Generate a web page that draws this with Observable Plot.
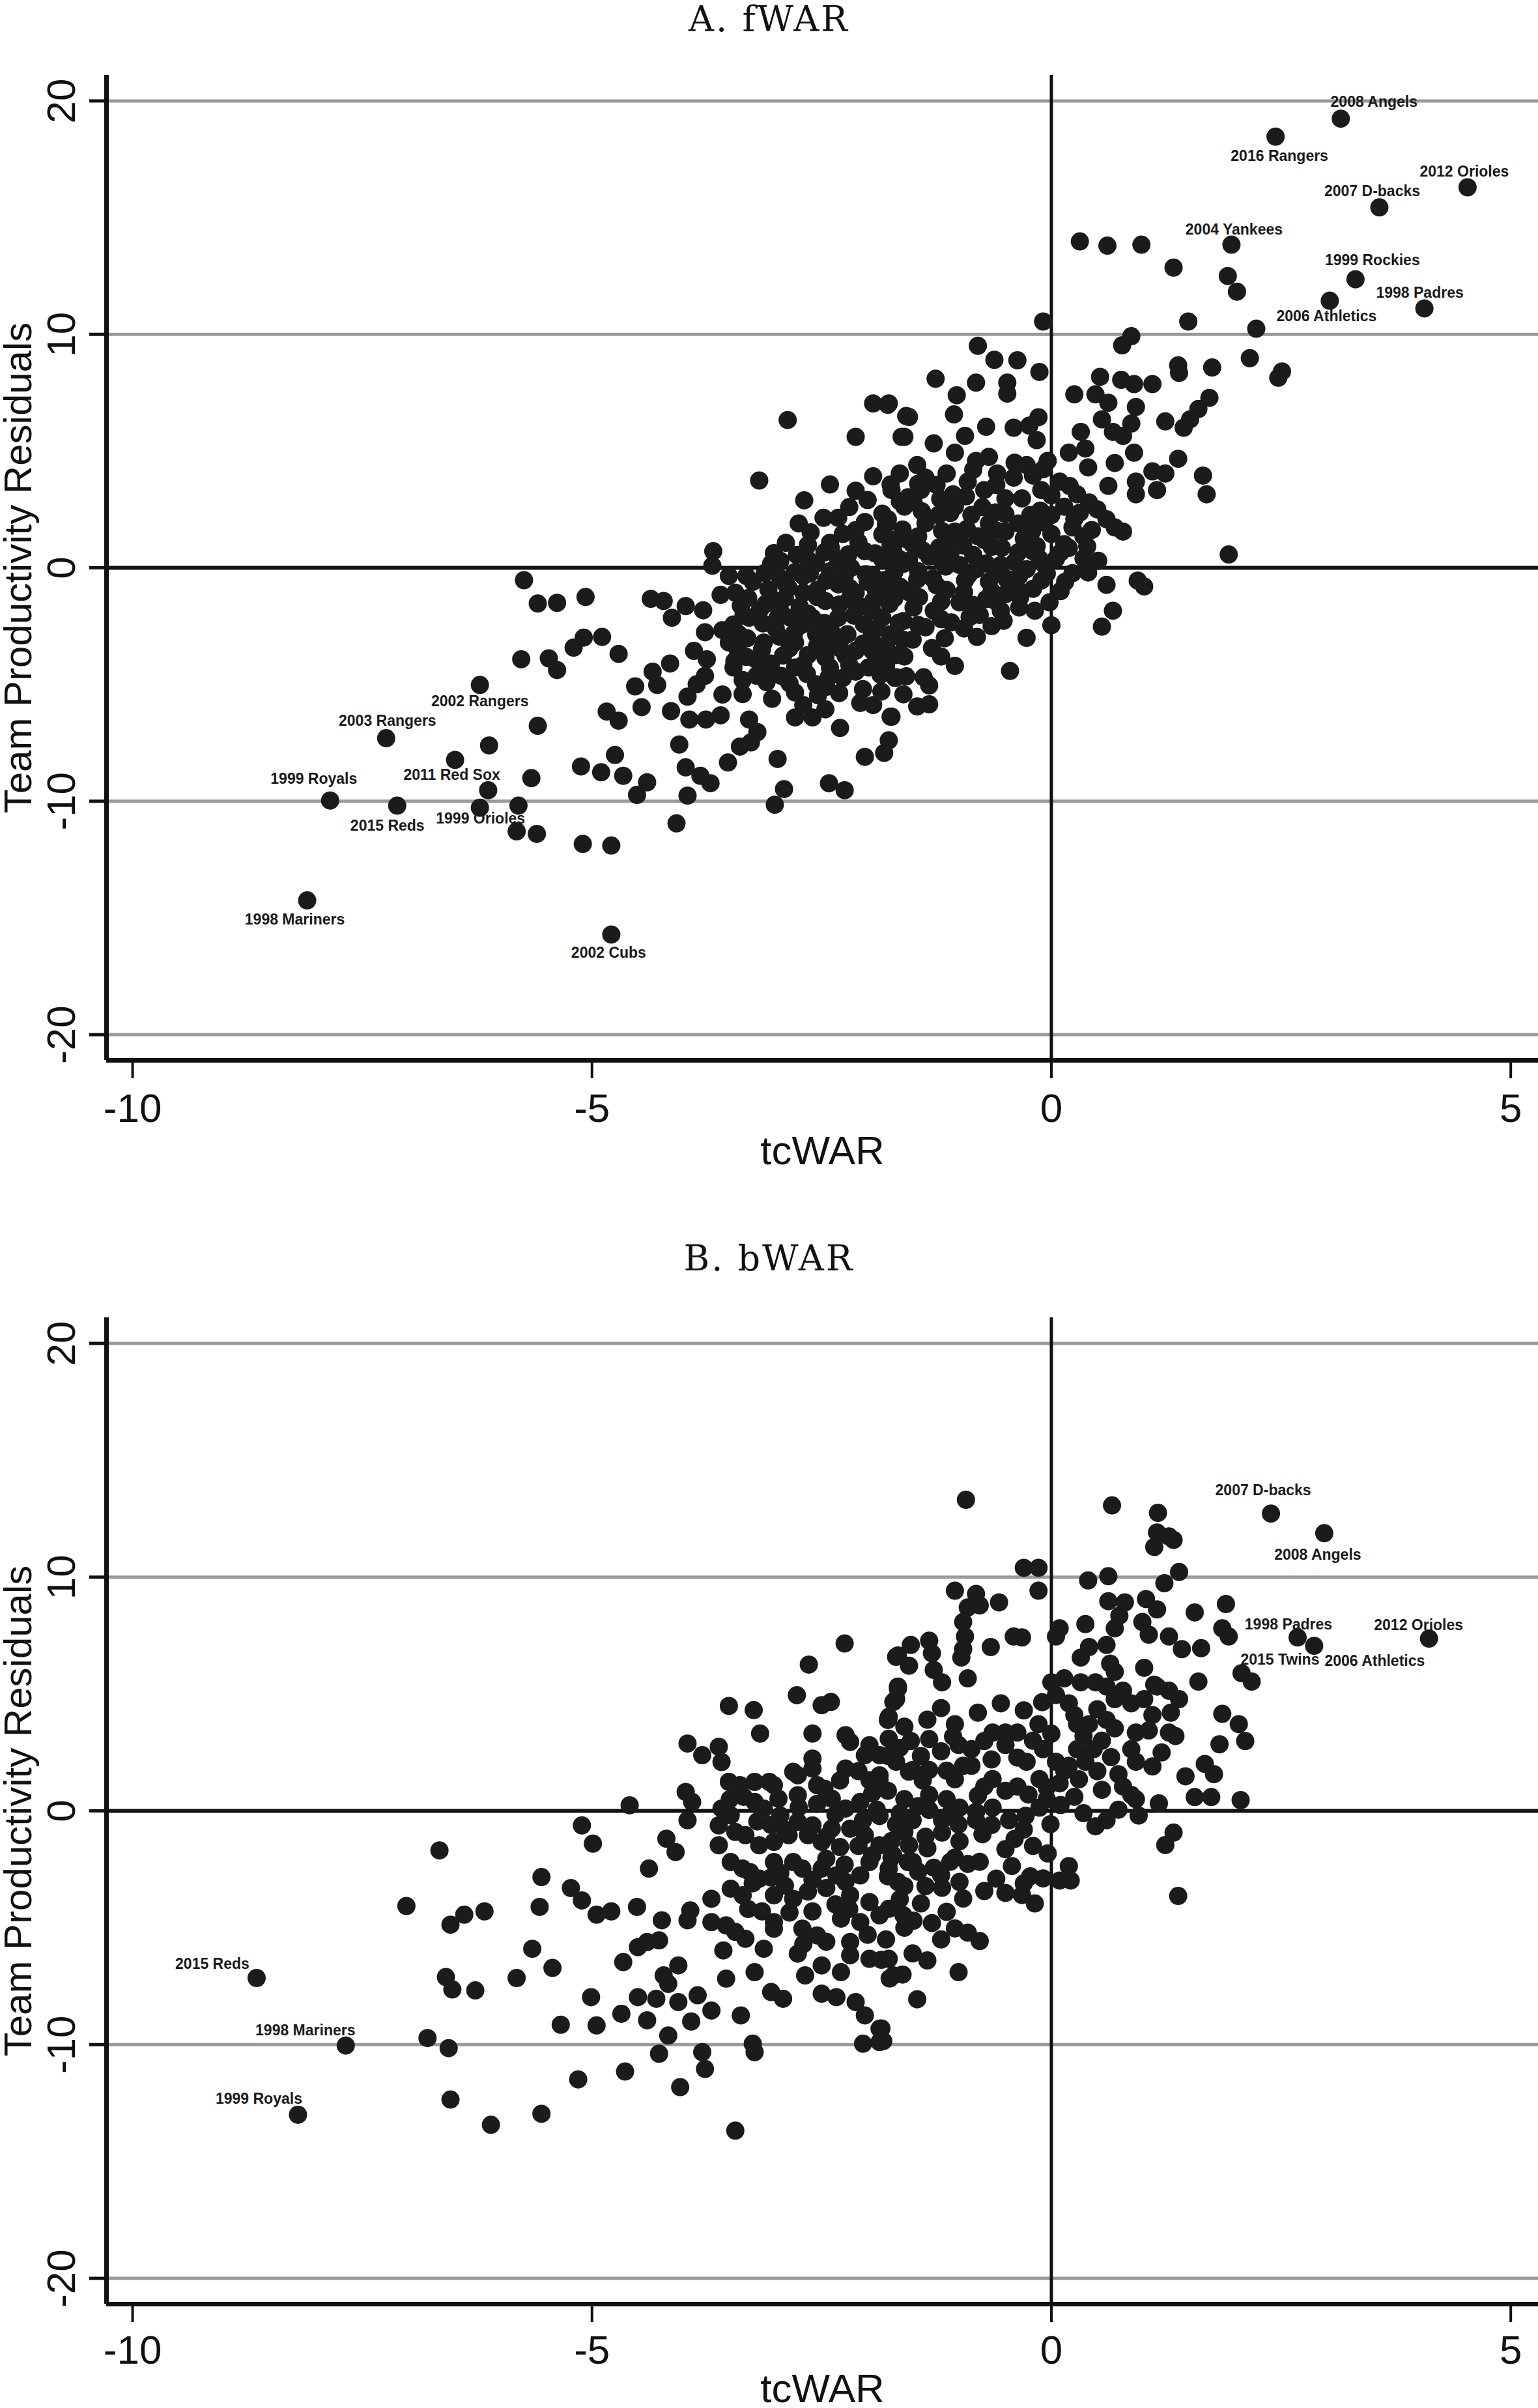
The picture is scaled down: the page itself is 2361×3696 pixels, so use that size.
<!DOCTYPE html>
<html><head><meta charset="utf-8">
<script src="https://cdn.jsdelivr.net/npm/d3@7"></script>
<script src="https://cdn.jsdelivr.net/npm/@observablehq/plot@0.6"></script>
<style>
html,body{margin:0;padding:0;background:#fff;}
#chart svg{display:block;}
</style></head><body><div id="chart"></div>
<script>
// ---------------- DATA ----------------
const panelTitles = ["A. fWAR", "B. bWAR"];
const xTitle = "tcWAR";
const yTitle = "Team Productivity Residuals";
const xTicks = [-10, -5, 0, 5];
const yTicks = [-20, -10, 0, 10, 20];
const gridY = [-20, -10, 10, 20];

// Panel A: [tcWAR, residual]
const fwarPoints = [
[-8.10,-14.25],[-4.79,-15.71],[-7.85,-9.97],[-7.12,-10.19],[-7.24,-7.30],[-6.22,-5.02],
[-6.49,-8.23],[-6.12,-7.61],[-6.13,-9.53],[-6.22,-10.28],[-5.80,-10.19],[-5.66,-9.01],
[-5.82,-11.29],[-5.60,-11.40],[-5.10,-11.83],[-4.79,-11.90],[-5.59,-6.77],
[-5.74,-0.53],[-5.59,-1.53],[-5.38,-1.50],[-5.07,-1.25],
[-5.77,-3.92],[-5.47,-3.88],[-5.38,-4.38],[-5.20,-3.42],[-5.09,-2.99],[-4.89,-2.96],[-4.71,-3.69],
[-4.84,-6.16],[-4.71,-6.55],[-5.12,-8.51],[-4.90,-8.76],[-4.75,-8.02],[-4.66,-8.91],[-4.51,-9.73],[-4.40,-9.19],
[-4.53,-5.08],[-4.46,-5.97],[-4.34,-4.45],[-4.29,-5.02],[-4.15,-4.10],[-4.14,-6.14],[-4.05,-7.57],[-4.08,-10.95],
[-3.98,-8.55],[-3.82,-8.91],[-3.71,-9.23],[-3.96,-9.76],[-3.94,-6.50],[-3.96,-5.52],[-3.86,-4.99],[-3.77,-4.63],
[-3.76,-6.50],[-3.58,-5.43],[-3.60,-6.32],[-3.52,-8.34],[-3.39,-7.66],[-3.27,-7.48],[-3.20,-7.04],[-3.29,-6.50],
[-3.04,-5.61],[-2.98,-8.19],[-2.91,-9.48],[-3.01,-10.15],[-2.42,-9.23],[-2.25,-9.53],[-2.03,-8.10],[-1.82,-7.93],
[-1.77,-7.39],[-2.30,-6.86],[-1.75,-6.38],[-2.08,-5.79],[-1.94,-5.88],[-1.70,-4.72],
[-3.68,0.71],[-3.69,0.09],[-3.51,-0.35],[-3.32,-0.35],[-3.60,-1.16],[-3.44,-1.07],[-4.36,-1.33],[-4.22,-1.42],
[-3.98,-1.64],[-4.13,-2.14],[-3.79,-1.82],[-3.77,-2.76],[-3.89,-3.56],[-3.75,-3.92],[-3.58,-2.67],[-3.51,-3.20],
[-3.41,-3.56],[-3.46,-4.27],[-3.36,-4.81],[-3.29,-2.14],[-3.17,-1.78],[-2.98,-1.42],[-3.13,-3.20],[-3.22,-3.92],
[-3.08,-4.27],[-2.94,-4.63],[-2.79,-4.27],[-2.79,-5.34],[-2.70,-5.88],[-2.60,-6.41],[-2.46,-6.06],[-2.79,-6.41],
[-2.56,-4.99],[-2.41,-4.27],[-2.27,-4.72],[-2.13,-4.45],[-1.99,-4.27],[-2.89,1.07],[-2.65,0.98],[-3.05,0.18],
[-2.79,-0.18],[-2.56,0.18],[-2.89,-0.71],[-2.70,-1.07],[-2.98,-2.14],[-2.84,-2.14],[-2.65,-1.96],[-2.46,-1.42],
[-2.32,-2.14],[-2.56,-2.85],[-2.79,-3.20],[-2.65,-3.74],[-2.41,-3.20],[-2.22,-2.85],[-2.13,-3.56],[-2.32,-0.71],
[-2.13,-1.07],[-1.94,-1.42],[-1.84,-2.14],[-1.75,-2.85],[-1.70,-3.74],[-1.75,-0.71],[-1.94,-0.36],[-2.18,0.00],
[-2.32,0.36],[-2.03,0.71],[-1.84,0.36],[-1.65,0.36],[-2.03,1.96],[-1.84,1.43],[-1.61,1.25],[-2.41,1.07],
[-2.32,2.14],[-2.13,1.61],[-2.48,2.14],[-2.41,3.57],[-2.13,3.30],[-1.94,3.92],[-1.75,3.57],[-1.65,2.85],
[-2.13,5.61],[-1.63,5.61],[-1.58,6.50],[-1.94,7.04],[-1.77,7.04],[-2.87,6.33],[-3.18,3.74],[-2.69,2.89],[-1.84,2.32],
[-2.62,1.52],[-2.27,1.45],[-3.02,0.63],[-2.77,0.55],[-2.47,0.66],[-2.21,0.57],[-1.92,0.62],[-1.72,0.71],
[-3.12,-0.22],[-2.63,-0.25],[-2.41,-0.15],[-2.02,-0.27],[-1.71,-0.18],[-3.08,-0.93],[-2.86,-0.86],[-2.55,-0.95],
[-2.19,-0.88],[-1.91,-0.97],[-1.62,-0.91],[-3.38,-1.62],[-3.11,-1.55],[-2.74,-1.66],[-2.31,-1.58],[-2.08,-1.66],
[-1.76,-1.55],[-3.46,-2.43],[-3.14,-2.38],[-2.72,-2.45],[-2.47,-2.36],[-2.04,-2.42],[-1.66,-2.35],[-3.31,-3.02],
[-2.96,-2.95],[-2.29,-3.05],[-1.96,-2.98],[-1.62,-3.07],[-3.32,-3.82],[-2.92,-3.76],[-2.46,-3.85],[-2.24,-3.77],
[-1.89,-3.83],[-3.21,-4.62],[-2.66,-4.55],[-2.42,-4.66],[-1.86,-4.58],[-1.58,-4.65],[-3.36,-5.41],[-2.54,-5.46],
[-2.31,-5.37],[-1.61,-5.42],
[-3.25,-0.60],[-2.95,-0.45],[-2.70,-0.35],[-2.45,-0.55],[-2.25,-0.40],[-2.00,-0.60],[-1.80,-1.20],
[-3.30,-1.30],[-2.90,-1.30],[-2.55,-1.25],[-2.20,-1.35],[-1.95,-1.85],[-3.35,-2.00],[-2.95,-1.85],[-2.60,-2.15],
[-2.15,-2.05],[-1.90,-2.60],[-3.40,-2.85],[-3.00,-2.60],[-2.80,-2.80],[-2.40,-2.70],[-2.05,-3.25],[-1.80,-3.30],
[-3.15,-3.50],[-2.85,-3.45],[-2.55,-3.35],[-2.30,-3.45],[-1.95,-3.55],[-3.45,-4.00],[-3.05,-4.10],[-2.70,-4.15],
[-2.20,-4.15],[-1.80,-4.20],[-3.10,-4.90],[-2.85,-4.95],[-2.45,-5.10],[-2.05,-5.20],[-1.85,-5.30],
[-2.95,0.30],[-2.65,0.35],[-2.40,0.85],[-2.10,1.10],[-1.75,0.95],[-2.75,1.90],[-2.20,2.60],[-2.00,2.90],[-1.80,1.85],
[3.15,19.24],[2.44,18.47],[4.53,16.30],[3.57,15.44],[1.96,13.84],[3.31,12.36],[3.03,11.44],[4.06,11.11],
[0.31,13.98],[0.61,13.80],[0.98,13.84],[1.33,12.86],[1.92,12.50],[2.02,11.83],[1.49,10.55],[2.23,10.24],
[-0.09,10.55],[0.87,9.92],[0.77,9.53],[-0.80,9.51],[-0.62,8.91],[-0.37,8.89],[-0.13,8.39],[-1.26,8.10],
[-0.82,7.93],[-0.48,7.93],[-0.48,7.46],[-1.03,7.39],[-1.06,6.57],[-1.78,6.98],[-1.55,6.46],[-1.60,5.61],
[-1.28,5.33],[-0.94,5.65],[-1.05,4.93],[-0.71,6.04],[-0.41,6.00],[-0.24,6.09],[-0.14,6.45],[0.25,7.43],
[0.53,8.18],[0.76,8.05],[0.90,7.87],[1.10,7.87],[1.38,8.67],[1.39,8.35],[1.75,8.58],[2.16,8.98],
[2.47,8.14],[2.51,8.41],[1.72,7.28],[1.60,6.80],[1.51,6.36],[1.44,6.00],[1.24,6.27],[1.38,4.67],
[1.65,3.95],[1.69,3.15],[1.15,3.33],[1.10,4.13],[1.24,4.04],[0.90,4.93],[0.78,5.65],[0.87,6.18],
[0.92,6.89],[0.62,7.07],[0.48,7.43],[0.55,6.36],[0.67,5.82],[0.32,5.82],[0.19,4.93],[0.37,5.11],
[0.69,4.49],[0.62,3.51],[0.92,3.69],[0.92,3.15],[0.41,2.80],[0.28,3.15],[0.09,3.69],[-0.11,3.33],
[-0.09,4.22],[-0.04,4.58],[-0.16,5.47],[-0.27,4.40],[-0.41,3.86],[-0.59,4.04],[-0.68,4.75],[-0.82,4.58],
[-0.91,3.69],[-1.14,4.04],[-1.37,3.86],[-1.46,4.40],[-1.65,4.04],[-1.74,3.33],[-1.42,3.33],[-1.07,3.15],
[-0.73,3.33],[-0.50,2.97],[-0.32,2.97],[-0.23,2.26],[0.00,2.26],[0.14,2.62],[0.23,1.73],[0.14,1.01],
[0.39,0.92],[0.60,2.08],[0.69,1.73],[0.78,1.55],[0.51,0.30],[0.23,-0.23],[0.05,0.39],[-0.13,0.39],
[-0.27,-0.06],[-0.36,0.66],[-0.55,0.12],[-0.50,1.55],[-0.36,1.90],[-0.68,1.90],[-0.73,1.19],[-0.87,2.26],
[-1.05,2.62],[-1.23,2.26],[-1.37,1.90],[-1.60,2.62],[-1.78,2.08],[-1.74,1.19],[-1.51,1.01],[-1.33,0.48],
[-1.14,1.19],[-1.00,0.12],[-0.82,-0.06],[-0.68,-0.59],[-0.50,-1.13],[-0.36,-0.95],[0.60,-0.73],[0.94,-0.55],
[1.01,-0.80],[0.67,-1.84],[0.55,-2.52],[0.00,-2.46],[-0.02,-1.48],[-0.18,-1.84],[-0.27,-3.00],[-0.45,-4.42],
[-0.55,-1.84],[-0.78,-2.02],[-0.89,-2.11],[-1.00,-1.48],[-1.14,-0.95],[-1.28,-1.84],[-1.37,-2.55],[-1.51,-3.08],
[-1.30,-3.44],[-1.60,-3.80],[-1.78,-3.62],[-1.69,-4.69],[-1.39,-4.69],[-1.33,-5.04],[-1.46,-5.94],[-1.33,-5.85],
[-1.74,-6.38],[1.93,0.57],[-1.65,-0.80],[-1.55,0.30],[-1.74,0.50],[-1.46,-0.50],
[-1.56,3.02],[-1.21,2.95],[-0.93,3.06],[-1.41,2.42],[-0.61,2.37],[-0.12,2.45],[0.31,2.36],[-1.62,1.64],
[-1.19,1.58],[-0.92,1.66],[-0.21,1.57],[0.44,1.62],[-1.22,0.88],[-0.96,0.95],[-0.54,0.86],[-0.16,0.93],
[0.19,0.85],[-1.61,0.17],[-1.19,0.24],[-0.71,0.18],[-0.08,0.15],[-1.81,-0.52],[-1.29,-0.46],[-0.94,-0.54],
[-0.49,-0.47],[-0.11,-0.55],[-1.71,-1.31],[-1.44,-1.26],[-0.71,-1.34],[-0.34,-1.27],[-1.61,-2.28],[-1.09,-2.34],
[-0.52,-2.27],[-1.16,-3.02],[-0.81,-2.96],
[-1.45,3.60],[-1.25,3.55],[-0.85,4.20],[-0.60,3.55],[-0.40,4.50],[-0.20,3.95],[0.00,3.10],[0.20,3.50],[0.40,4.30],
[-1.50,2.80],[-1.10,2.35],[-0.75,2.60],[-0.50,2.30],[-0.10,1.95],[0.25,2.10],[0.50,2.50],
[-1.45,1.35],[-1.05,1.55],[-0.80,1.35],[-0.60,1.60],[-0.30,1.25],[0.00,1.45],[0.35,1.35],
[-1.40,0.75],[-1.10,0.60],[-0.85,0.55],[-0.65,0.90],[-0.40,0.25],[-0.20,0.70],[0.10,0.65],[0.35,0.40],
[-1.45,-0.15],[-1.15,0.05],[-0.90,-0.30],[-0.60,-0.20],[-0.35,-0.35],[-0.05,-0.25],[0.15,-0.60],[0.40,-0.20],
[-1.55,-1.05],[-1.25,-0.75],[-0.95,-1.05],[-0.65,-1.00],[-0.20,-0.90],[0.10,-1.00],
[-1.50,-1.70],[-1.20,-1.45],[-0.85,-1.60],[-0.60,-1.45],[-0.35,-1.70],
[-1.45,-2.45],[-1.20,-2.20],[-0.95,-2.60],[-0.65,-2.50],[-1.20,-3.80],[-1.05,-4.20]
];
const fwarLabels = ["2008 Angels","2016 Rangers","2012 Orioles","2007 D-backs","2004 Yankees","1999 Rockies","1998 Padres","2006 Athletics","2002 Rangers","2003 Rangers","1999 Royals","2011 Red Sox","2015 Reds","1999 Orioles","1998 Mariners","2002 Cubs"];
const fwarLabelX = [3.15,2.44,4.53,3.57,1.96,3.31,4.06,3.03,-6.22,-7.24,-7.85,-6.49,-7.12,-6.22,-8.10,-4.79];
const fwarLabelY = [19.24,18.47,16.30,15.44,13.84,12.36,11.11,11.44,-5.02,-7.30,-9.97,-8.23,-10.19,-10.28,-14.25,-15.71];

// Panel B: [tcWAR, residual]
const bwarPoints = [
[-8.65,-7.15],[-7.68,-10.04],[-8.20,-13.00],[-7.02,-4.07],[-6.66,-1.69],[-6.54,-4.87],[-6.39,-4.44],[-6.17,-4.30],
[-6.59,-7.11],[-6.52,-7.64],[-6.27,-7.68],[-6.79,-9.72],[-6.56,-10.15],[-6.54,-12.35],[-6.10,-13.43],[-5.55,-12.96],
[-5.82,-7.15],[-5.65,-5.90],[-5.43,-6.72],[-5.57,-4.11],[-5.55,-2.83],[-5.23,-3.30],[-5.11,-3.83],[-4.95,-4.44],
[-4.79,-4.30],[-4.51,-4.11],[-5.11,-0.62],[-4.99,-1.40],[-4.59,0.24],[-4.38,-2.47],[-4.24,-4.68],[-4.50,-5.83],
[-4.40,-5.61],[-4.27,-5.54],[-4.66,-6.47],[-5.01,-7.97],[-5.34,-9.15],[-4.95,-9.18],[-4.68,-8.68],[-4.50,-7.97],
[-4.40,-8.96],[-4.30,-8.04],[-4.17,-9.61],[-4.27,-10.39],[-4.64,-11.15],[-5.15,-11.49],[-4.04,-11.82],[-3.80,-10.32],
[-3.77,-11.04],[-3.92,-9.01],[-3.70,-8.54],[-4.06,-8.18],[-3.85,-7.89],[-3.38,-8.75],[-3.25,-9.96],[-3.23,-10.32],
[-3.44,-13.68],[-4.06,-6.61],[-4.22,-7.04],[-4.17,-7.40],[-3.54,-7.18],[-3.57,-5.97],[-3.96,-4.68],[-3.93,-4.26],
[-3.70,-4.76],[-3.54,-4.90],[-3.44,-5.18],[-3.33,-5.47],[-3.23,-6.90],[-3.05,-7.75],[-2.92,-8.04],[-2.76,-6.11],
[-2.68,-7.04],[-2.50,-7.82],[-2.34,-7.97],[-2.13,-8.18],[-2.03,-8.75],[-1.87,-9.32],[-1.87,-9.89],[-2.05,-9.96],
[-1.98,-6.33],[-1.77,-6.33],[-1.72,-7.04],[-3.70,-3.76],[-3.49,-3.33],[-3.36,-3.61],[-3.62,-1.47],[-3.62,-0.62],
[-3.96,-0.40],[-3.98,0.81],[-3.91,0.38],[-4.19,-1.19],[-4.09,-1.76],[-3.51,1.24],[-3.39,1.10],[-3.23,1.24],
[-3.07,1.24],[-3.59,0.10],[-3.49,-0.19],[-3.44,-0.90],[-3.33,-1.04],[-3.49,-2.19],[-3.36,-2.47],[-3.28,-2.62],
[-3.18,-2.90],[-3.02,-3.61],[-2.81,-3.76],[-3.02,-2.19],[-2.81,-2.19],[-2.71,-2.47],[-2.50,-2.47],[-2.34,-2.76],
[-2.24,-3.04],[-2.08,-2.76],[-3.18,-1.47],[-3.02,-1.33],[-2.86,-1.04],[-2.65,-1.04],[-2.50,-1.33],[-2.39,-0.76],
[-2.76,-0.47],[-2.60,-0.62],[-3.23,0.38],[-3.13,0.10],[-2.97,0.52],[-2.76,0.67],[-2.55,1.10],[-2.39,0.52],
[-2.24,0.10],[-2.08,0.38],[-3.02,1.10],[-2.76,1.52],[-2.60,1.81],[-2.47,0.95],[-2.81,1.67],[-2.60,2.24],
[-2.24,1.81],[-1.98,1.31],[-1.87,1.52],[-2.03,2.38],[-2.19,2.95],[-1.98,2.81],[-1.87,2.38],[-1.77,3.09],
[-3.96,2.88],[-3.80,2.38],[-3.62,2.74],[-3.59,2.09],[-3.17,3.31],[-2.60,3.31],[-3.51,4.49],[-3.24,4.31],
[-2.77,4.95],[-2.50,4.52],[-2.40,4.66],[-2.64,6.26],[-2.25,7.16],[-1.77,4.02],[-1.72,4.66],[-1.67,5.23],
[-1.69,6.59],[-2.24,3.24],[-2.19,-0.76],[-2.03,-1.04],[-1.87,-1.47],[-1.72,-1.90],[-1.56,-2.19],[-1.98,-2.19],
[-1.77,-2.47],[-1.67,-3.04],[-2.19,-3.61],[-1.98,-3.90],[-1.77,-4.19],[-1.61,-4.47],[-2.29,-4.61],[-2.08,-4.76],
[-1.87,-4.47],[-2.71,-5.04],[-2.55,-5.33],[-3.02,-4.76],[-3.02,-5.04],[-3.13,-5.90],[-2.29,-6.90],[-2.19,-6.18],
[-2.50,-6.61],[-2.19,-5.61],
[-2.95,-0.20],[-2.75,0.15],[-2.55,0.30],[-2.35,-0.15],[-2.05,-0.40],[-1.90,0.05],[-1.95,0.75],[-2.30,1.30],[-2.10,1.70],
[-2.90,-0.80],[-2.45,-1.10],[-2.30,-1.55],[-2.10,-1.50],[-1.95,-1.90],[-2.95,-2.65],[-2.60,-2.95],[-2.45,-2.05],[-2.25,-2.30],
[-2.90,-3.20],[-2.65,-3.45],[-2.45,-3.30],[-2.35,-4.00],[-2.60,-4.30],[-2.85,-4.35],[-2.20,-4.20],
[-3.15,-4.30],[-3.30,-4.20],[-3.25,-3.10],[-3.05,-2.85],[-2.45,-5.60],[-2.70,-5.70],[-2.00,-5.30],[-1.80,-5.50],[-1.60,-5.00],
[-3.35,0.60],[-3.50,0.50],[-3.20,-0.45],[-3.05,-0.60],[-1.50,-4.70],[-1.30,-4.80],[-1.20,-5.50],[-1.35,-6.40],
[2.39,12.72],[2.97,11.88],[2.68,7.42],[2.86,7.06],[2.18,5.53],[2.07,5.89],[4.11,7.37],[-0.93,13.31],
[0.66,13.07],[1.16,12.75],[1.15,11.91],[1.28,11.74],[1.33,11.59],[1.12,11.29],[1.39,10.22],[1.23,9.74],
[0.62,10.04],[0.40,9.86],[-0.30,10.40],[-0.14,10.40],[-0.14,9.42],[-1.05,9.42],[-0.82,9.28],[-0.78,8.79],
[-0.91,8.70],[-0.57,8.92],[-0.96,8.08],[-0.94,7.46],[-0.96,6.92],[-0.98,6.56],[-1.53,7.10],[-1.67,6.65],
[-1.33,7.28],[-1.30,6.74],[-1.55,6.21],[-1.28,6.03],[-1.19,5.50],[-1.67,5.32],[-1.69,4.78],[-1.78,3.89],
[-0.91,5.67],[-0.66,7.01],[-0.41,7.46],[-0.32,7.42],[0.05,7.46],[0.09,7.81],[0.37,7.99],[0.62,8.97],
[0.80,8.92],[1.03,9.06],[1.15,8.62],[0.74,8.35],[0.69,7.81],[0.99,8.08],[1.06,7.54],[1.56,8.49],
[1.90,8.85],[1.86,7.81],[1.93,7.46],[1.63,6.96],[1.28,7.46],[1.42,6.92],[1.01,6.12],[1.60,5.53],
[1.12,5.40],[1.28,5.14],[1.39,4.78],[1.86,4.15],[2.04,3.71],[2.11,2.99],[1.83,2.85],[1.67,2.01],
[1.77,1.57],[1.46,1.48],[1.56,0.59],[1.74,0.59],[2.06,0.46],[1.17,0.32],[0.92,0.50],[0.73,0.05],
[0.48,-0.66],[1.33,-0.93],[1.24,-1.46],[1.38,-3.64],[-0.01,-0.57],[0.19,-2.36],[0.21,-2.98],[0.09,-2.98],
[-0.09,-2.89],[-0.23,-2.80],[-0.04,-1.82],[-0.18,-3.96],[-0.32,-3.60],[-0.50,-3.51],[-0.73,-3.43],[-0.43,-2.36],
[-0.50,-1.64],[-0.78,-2.18],[-0.91,-2.27],[-1.05,-2.00],[-0.78,-5.57],[-1.01,-6.90],[-1.46,-8.06],[-1.51,-6.10],
[-1.62,-7.00],[-1.76,-7.17],[-1.85,-6.37],[-1.85,-9.31],[-1.83,-9.85],[-0.91,-5.21],[-1.05,-5.03],[-1.14,-4.32],
[-1.42,-3.96],[-1.65,-3.78],[0.32,6.56],[0.41,7.01],[0.60,7.10],[0.64,6.30],[0.69,5.95],[0.32,5.50],
[0.14,5.67],[0.00,5.50],[0.05,4.96],[0.19,4.60],[0.48,5.50],[0.60,5.32],[0.69,4.78],[0.78,5.14],
[0.87,4.60],[1.01,4.78],[1.15,5.32],[0.28,3.71],[0.41,3.71],[0.60,3.89],[0.69,3.53],[0.55,3.00],
[0.46,2.64],[0.37,2.10],[0.14,1.72],[0.09,1.18],[0.92,3.35],[1.06,3.44],[1.28,3.35],[0.87,2.64],
[0.92,2.10],[0.73,1.57],[0.78,1.04],[0.87,0.68],[0.28,2.64],[0.19,1.93],[0.05,2.10],[-0.09,2.64],
[-0.14,3.71],[-0.37,3.35],[-0.50,3.35],[-0.64,3.35],[-0.73,2.99],[-0.87,2.64],[-1.01,2.82],[-1.05,3.71],
[-1.07,3.18],[-0.50,2.82],[-0.37,2.28],[-0.27,2.10],[-0.13,1.36],[-0.37,1.04],[-0.50,0.86],[-0.64,1.36],
[-0.73,1.04],[-0.87,1.93],[-0.96,1.93],[-1.14,1.72],[-1.33,1.75],[-1.51,1.75],[-1.69,2.10],[-1.78,2.35],
[-1.42,2.35],[-1.53,2.99],[-1.33,3.07],[-1.55,1.68],[-1.33,0.68],[-1.60,0.50],[-1.78,0.86],[-1.87,1.29],
[-1.14,0.50],[-1.00,0.14],[-0.82,-0.04],[-0.64,0.14],[-0.46,-0.40],[-0.28,-0.21],[-0.13,0.14],[-0.05,0.50],
[-1.87,-0.22],[-1.69,-0.58],[-1.51,-0.40],[-1.33,0.04],[-1.19,-0.40],[-1.01,-0.58],[-0.82,-0.40],[-1.74,-1.29],
[-1.55,-1.47],[-1.37,-1.11],[-1.19,-0.93],[-1.74,-2.00],[-1.51,-2.18],[-1.28,-2.43],[-1.10,-2.18],[-1.78,-2.80],
[-1.60,-3.22],[-1.37,-3.22],[-1.19,-3.29],[-1.00,-3.04],[-0.96,-3.75],
[-1.60,3.60],[-1.35,3.90],[-1.20,4.40],[-0.80,4.20],[-0.55,4.60],[-0.30,4.30],[-0.10,4.65],
[-1.65,2.70],[-1.20,2.55],[-0.65,2.20],[-0.20,3.00],[0.00,3.30],[-1.40,1.30],[-1.05,1.35],[-0.80,0.65],[-0.25,0.70],[-0.05,1.00],
[-1.65,-0.10],[-1.45,0.20],[-1.10,-0.10],[-0.65,-0.60],[-0.30,-0.80],[-1.60,-0.90],[-1.35,-1.60],[-1.00,-1.30],[-0.75,-1.00],
[-0.40,-1.20],[-0.20,-1.50],[-1.45,-2.60],[-1.20,-2.75],[-0.60,-2.90],[-0.30,-3.10],
[0.25,4.10],[0.50,4.35],[0.35,3.20],[0.65,2.30],[0.50,1.70],[0.30,1.35],[0.55,0.90],[0.25,0.60],[0.10,0.25],[0.35,-0.10],
[0.60,-0.40],[0.95,-0.20],[1.10,1.90],[1.20,2.50],[1.35,3.20],[1.10,4.10],[1.30,4.20]
];
const bwarLabels = ["2007 D-backs","2008 Angels","1998 Padres","2012 Orioles","2015 Twins","2006 Athletics","2015 Reds","1998 Mariners","1999 Royals"];
const bwarLabelX = [2.39,2.97,2.68,4.11,2.07,2.86,-8.65,-7.68,-8.20];
const bwarLabelY = [12.72,11.88,7.42,7.37,5.89,7.06,-7.15,-10.04,-13.00];

// ---------------- STYLE / LAYOUT ----------------
const fwarLabelOffsets = [[51,-26],[6,30],[-5,-24],[-11,-25],[4,-23],[26,-29],[-7,-24],[-5,24],[0,25],[2,-26],[-25,-33],[-5,23],[-15,31],[1,17],[-19,30],[-4,28]];
const bwarLabelOffsets = [[-12,-36],[-10,33],[-14,-20],[-16,-20],[59,-21],[93,23],[-68,-21],[-62,-23],[-60,-24]];

const W = 2361;
const xDomain = [-10.284, 5.3];
const yDomain = [-21.1, 21.1];
const sans = "'Liberation Sans', Arial, Helvetica, sans-serif";

function panel({points, labels, lx, ly, offsets, title, height, marginTop, marginBottom, titleDy, tickDy, xTitleDy}) {
  const marks = [
    Plot.ruleY(gridY, {y: d => d, stroke: "#9a9a9a", strokeWidth: 5}),
    Plot.ruleY([0], {y: d => d, stroke: "#111", strokeWidth: 6}),
    Plot.ruleX([0], {x: d => d, stroke: "#111", strokeWidth: 5}),
    Plot.dot(points, {x: d => d[0], y: d => d[1], r: 14, fill: "#1b1b1b", stroke: "none"}),
    ...labels.map((t, i) => Plot.text([i], {
      x: j => lx[j], y: j => ly[j], text: j => labels[j],
      dx: offsets[i][0], dy: offsets[i][1],
      fontSize: 23, fontWeight: "bold", fontFamily: sans, fill: "#1a1a1a",
      textAnchor: "middle", lineAnchor: "middle"
    })),
    Plot.ruleX([xDomain[0]], {x: d => d, stroke: "#111", strokeWidth: 7}),
    Plot.ruleY([yDomain[0]], {y: d => d, stroke: "#111", strokeWidth: 7}),
    Plot.axisX({ticks: xTicks, tickSize: 28, tickFormat: () => "", strokeWidth: 4, color: "#111"}),
    Plot.axisY({ticks: yTicks, tickSize: 26, tickFormat: () => "", strokeWidth: 5, color: "#111"}),
    Plot.text(xTicks, {x: d => d, text: d => String(d), frameAnchor: "bottom", dy: tickDy, fontSize: 62, fontFamily: sans, fill: "#111", lineAnchor: "middle"}),
    Plot.text(yTicks, {y: d => d, text: d => String(d), frameAnchor: "left", dx: -68, rotate: -90, fontSize: 62, fontFamily: sans, fill: "#111", textAnchor: "middle", lineAnchor: "middle"}),
    Plot.text([xTitle], {text: d => d, frameAnchor: "bottom", dy: xTitleDy, fontSize: 62, fontFamily: sans, fill: "#111", lineAnchor: "middle"}),
    Plot.text([yTitle], {text: d => d, frameAnchor: "left", dx: -135, rotate: -90, fontSize: 60, fontFamily: sans, fill: "#111", textAnchor: "middle", lineAnchor: "middle"}),
    Plot.text([title], {text: d => d, frameAnchor: "top", dx: -82, dy: titleDy, fontSize: 54, fontFamily: "'DejaVu Serif', serif", fill: "#111", lineAnchor: "middle"})
  ];
  const svg = Plot.plot({
    width: W, height, marginLeft: 163, marginRight: 0, marginTop, marginBottom,
    x: {domain: xDomain}, y: {domain: yDomain},
    style: {background: "#fff", fontFamily: sans, overflow: "visible"},
    marks
  });
  d3.select(svg).selectAll("text").filter(function() { return this.textContent === title; })
    .attr("letter-spacing", "3px");
  return svg;
}

const chart = document.getElementById("chart");
chart.appendChild(panel({points: fwarPoints, labels: fwarLabels, lx: fwarLabelX, ly: fwarLabelY, offsets: fwarLabelOffsets,
  title: panelTitles[0], height: 1848, marginTop: 115, marginBottom: 221, titleDy: -85, tickDy: 75, xTitleDy: 140}));
chart.appendChild(panel({points: bwarPoints, labels: bwarLabels, lx: bwarLabelX, ly: bwarLabelY, offsets: bwarLabelOffsets,
  title: panelTitles[1], height: 1848, marginTop: 174, marginBottom: 160, titleDy: -90, tickDy: 72, xTitleDy: 131}));
</script></body></html>
